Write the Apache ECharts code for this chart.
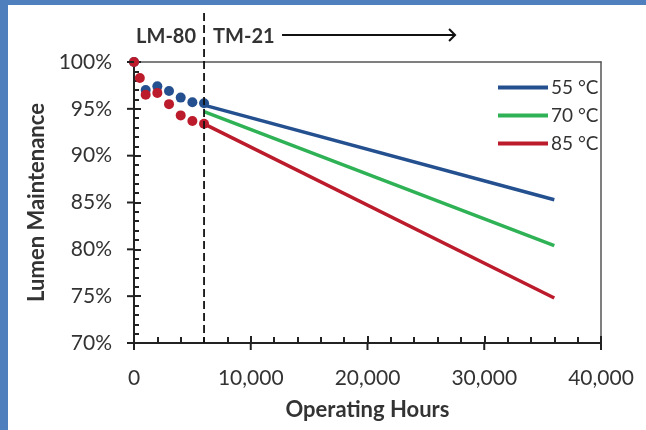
<!DOCTYPE html>
<html>
<head>
<meta charset="utf-8">
<script src="https://cdn.jsdelivr.net/npm/echarts@6/dist/echarts.min.js"></script>
<style>
  html, body { margin: 0; padding: 0; background: #fff; }
  #chart { width: 646px; height: 430px; }
</style>
</head>
<body>
<div id="chart"></div>
<script>
// LM-80 measured points (hours, % lumen maintenance)
var lm80Blue = [[0, 100], [1000, 97.0], [2000, 97.4], [3000, 96.9], [4000, 96.2], [5000, 95.7], [6000, 95.6]];
var lm80Red = [[0, 100], [500, 98.3], [1000, 96.5], [2000, 96.7], [3000, 95.5], [4000, 94.3], [5000, 93.7], [6000, 93.4]];

// TM-21 projections
var tm21_55 = [[6000, 95.4], [36000, 85.3]];
var tm21_70 = [[6000, 94.7], [36000, 80.4]];
var tm21_85 = [[6000, 93.4], [36000, 74.8]];

var legendNames = ["55 °C", "70 °C", "85 °C"];
var lm80End = 6000;
var arrowEndHours = 27500;

var xTicks = [0, 10000, 20000, 30000, 40000];
var yTicks = [70, 75, 80, 85, 90, 95, 100];

var blue = "#24508f", green = "#2fb255", red = "#bb1b2b";
var txt = "#333333";

var chart = echarts.init(document.getElementById("chart"));
var tickStyle = { color: "#222", width: 2 };
var option = {
  animation: false,
  backgroundColor: "#fff",
  textStyle: { fontFamily: "Lato" },
  grid: { left: 134, top: 62, right: 45, bottom: 87, show: false },
  legend: {
    data: legendNames,
    orient: "vertical",
    left: 493, top: 73,
    icon: "rect",
    itemWidth: 50, itemHeight: 4,
    itemGap: 9,
    textStyle: { fontSize: 19, color: txt, padding: [0, 0, 0, -2] }
  },
  xAxis: [{
    type: "value", position: "bottom",
    min: xTicks[0], max: xTicks[xTicks.length - 1], interval: 10000,
    name: "Operating Hours",
    nameLocation: "middle", nameGap: 56,
    nameTextStyle: { fontSize: 22, fontWeight: "bold", color: txt },
    axisLine: { show: true, onZero: false, lineStyle: { color: "#222", width: 2 } },
    axisTick: { show: true, inside: true, length: 7, lineStyle: tickStyle },
    minorTick: { show: true, splitNumber: 5, length: 6, lineStyle: tickStyle },
    axisLabel: {
      fontSize: 21, color: txt, margin: 25,
      formatter: function (v) { return v.toLocaleString("en-US"); }
    },
    splitLine: { show: false }
  }, {
    // top frame edge
    type: "value", position: "top",
    min: xTicks[0], max: xTicks[xTicks.length - 1], interval: 10000,
    axisLine: { show: true, onZero: false, lineStyle: { color: "#555", width: 1.5 } },
    axisTick: { show: false },
    axisLabel: { show: false },
    splitLine: { show: false }
  }],
  yAxis: [{
    type: "value", position: "left",
    min: yTicks[0], max: yTicks[yTicks.length - 1], interval: 5,
    name: "Lumen Maintenance",
    nameLocation: "middle", nameGap: 76,
    nameTextStyle: { fontSize: 22, fontWeight: "bold", color: txt },
    axisLine: { show: true, onZero: false, lineStyle: { color: "#222", width: 2 } },
    axisTick: { show: true, inside: true, length: 7, lineStyle: tickStyle },
    minorTick: { show: true, splitNumber: 5, length: 5, lineStyle: tickStyle },
    axisLabel: { fontSize: 21, color: txt, margin: 22, formatter: "{value}%" },
    splitLine: { show: false }
  }, {
    // right frame edge
    type: "value", position: "right",
    min: yTicks[0], max: yTicks[yTicks.length - 1], interval: 5,
    axisLine: { show: true, onZero: false, lineStyle: { color: "#555", width: 1.5 } },
    axisTick: { show: false },
    axisLabel: { show: false },
    splitLine: { show: false }
  }],
  series: [
    {
      name: legendNames[0], type: "line", data: tm21_55,
      symbol: "none", lineStyle: { color: blue, width: 3.5 }, itemStyle: { color: blue }, z: 3
    },
    {
      name: legendNames[1], type: "line", data: tm21_70,
      symbol: "none", lineStyle: { color: green, width: 3.5 }, itemStyle: { color: green }, z: 3
    },
    {
      name: legendNames[2], type: "line", data: tm21_85,
      symbol: "none", lineStyle: { color: red, width: 3.5 }, itemStyle: { color: red }, z: 3
    },
    {
      name: "LM-80 55", type: "scatter", data: lm80Blue,
      symbolSize: 10, itemStyle: { color: blue, opacity: 1 }, z: 4
    },
    {
      name: "LM-80 85", type: "scatter", data: lm80Red,
      symbolSize: 10, itemStyle: { color: red, opacity: 1 }, z: 5
    },
    {
      // hidden, keeps the frame axes in use
      name: "frame", type: "line", xAxisIndex: 1, yAxisIndex: 1, data: tm21_55,
      symbol: "none", silent: true, lineStyle: { opacity: 0 }
    }
  ]
};
chart.setOption(option);

// outer half of the crossing major ticks, placed through the axes
var xDash = chart.convertToPixel({ xAxisIndex: 0 }, lm80End);
var yBottom = chart.convertToPixel({ yAxisIndex: 0 }, yTicks[0]);
var xLeft = chart.convertToPixel({ xAxisIndex: 0 }, xTicks[0]);
var xArrow = chart.convertToPixel({ xAxisIndex: 0 }, arrowEndHours);
var tickMarks = [];
xTicks.forEach(function (h) {
  var px = chart.convertToPixel({ xAxisIndex: 0 }, h);
  tickMarks.push({ type: "line", shape: { x1: px, y1: yBottom, x2: px, y2: yBottom + 7 }, style: { stroke: "#222", lineWidth: 2 }, z: 40 });
});
yTicks.forEach(function (v) {
  var py = chart.convertToPixel({ yAxisIndex: 0 }, v);
  tickMarks.push({ type: "line", shape: { x1: xLeft - 7, y1: py, x2: xLeft, y2: py }, style: { stroke: "#222", lineWidth: 2 }, z: 40 });
});

chart.setOption({
  graphic: tickMarks.concat([
    { type: "rect", shape: { x: 0, y: 0, width: 646, height: 5 }, style: { fill: "#4f7fbd" }, z: 100 },
    { type: "rect", shape: { x: 0, y: 0, width: 8, height: 430 }, style: { fill: "#4f7fbd" }, z: 100 },
    {
      type: "line", shape: { x1: xDash, y1: 13, x2: xDash, y2: yBottom },
      style: { stroke: "#111", lineWidth: 1.8, lineDash: [8, 4] }, z: 50
    },
    {
      type: "text", x: xDash - 8, y: 37,
      style: { text: "LM-80", align: "right", verticalAlign: "middle", font: "bold 20px Lato", fill: txt }, z: 50
    },
    {
      type: "text", x: xDash + 9, y: 37,
      style: { text: "TM-21", align: "left", verticalAlign: "middle", font: "bold 20px Lato", fill: txt }, z: 50
    },
    {
      type: "line", shape: { x1: xDash + 78, y1: 35, x2: xArrow, y2: 35 },
      style: { stroke: "#111", lineWidth: 2 }, z: 50
    },
    {
      type: "polyline", shape: { points: [[xArrow - 6, 29], [xArrow, 35], [xArrow - 6, 41]] },
      style: { stroke: "#111", lineWidth: 2, fill: null }, z: 50
    }
  ])
});
</script>
</body>
</html>
